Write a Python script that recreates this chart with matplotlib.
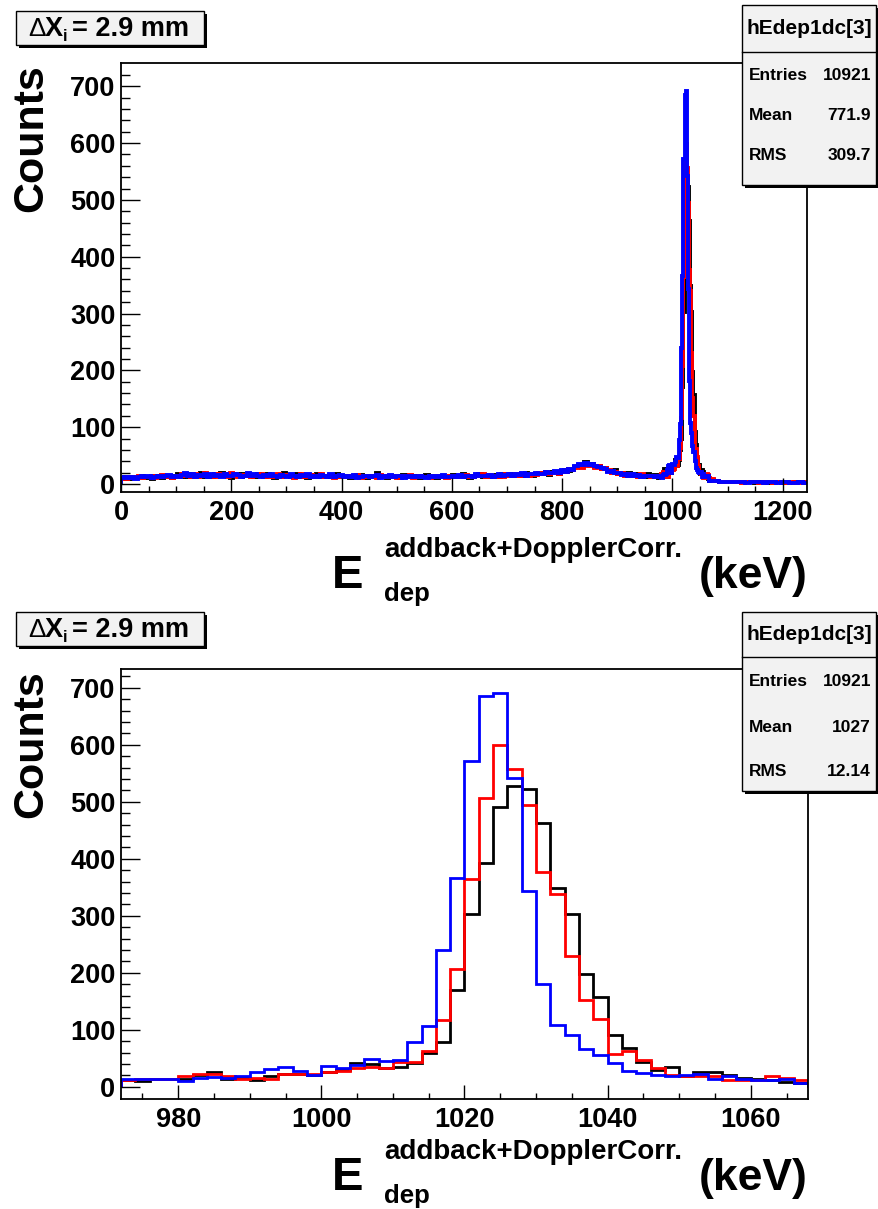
import matplotlib as mpl
mpl.use("Agg")
import matplotlib.pyplot as plt
from matplotlib.patches import Rectangle
import numpy as np

plt.rcParams['font.family'] = ['Liberation Sans', 'DejaVu Sans']
plt.rcParams['font.weight'] = 'bold'

# ---- data: counts per bin ----
# continuum 0-972 keV, 6 keV bins (162)
cont_black = [8, 12, 9, 11, 13, 10, 14, 11, 13, 9,
              14, 12, 10, 15, 13, 11, 14, 17, 13, 16,
              12, 18, 15, 14, 19, 13, 16, 12, 17, 15,
              20, 14, 16, 11, 15, 18, 13, 17, 14, 16,
              12, 17, 15, 13, 18, 14, 11, 16, 13, 19,
              14, 12, 15, 17, 13, 15, 11, 16, 14, 18,
              13, 15, 12, 16, 14, 17, 12, 13, 15, 11,
              14, 12, 16, 13, 10, 15, 13, 19, 12, 14,
              11, 15, 13, 14, 10, 16, 12, 14, 13, 15,
              11, 14, 16, 12, 13, 10, 15, 13, 12, 14,
              16, 12, 14, 17, 13, 11, 15, 14, 18, 12,
              15, 13, 16, 14, 12, 17, 15, 16, 18, 14,
              17, 15, 19, 16, 14, 18, 17, 20, 18, 16,
              21, 19, 17, 22, 25, 23, 26, 30, 34, 31,
              38, 33, 36, 30, 32, 27, 29, 23, 21, 24,
              18, 20, 16, 19, 15, 17, 14, 16, 13, 17,
              14, 16]
cont_red = [11, 9, 13, 10, 12, 14, 10, 13, 12, 15,
            11, 13, 16, 12, 14, 10, 13, 15, 18, 14,
            16, 13, 17, 12, 15, 19, 14, 16, 13, 18,
            15, 17, 13, 19, 14, 12, 16, 15, 18, 13,
            16, 14, 17, 12, 15, 13, 16, 18, 12, 14,
            16, 13, 11, 15, 17, 12, 14, 16, 13, 15,
            17, 12, 14, 16, 11, 15, 13, 14, 12, 15,
            13, 16, 11, 14, 12, 15, 13, 11, 16, 12,
            14, 12, 15, 11, 13, 14, 12, 16, 10, 13,
            15, 12, 13, 11, 14, 12, 15, 13, 11, 14,
            13, 15, 12, 14, 16, 13, 12, 15, 14, 17,
            13, 16, 14, 12, 15, 13, 17, 15, 14, 17,
            15, 18, 16, 14, 17, 16, 19, 18, 21, 17,
            19, 22, 18, 23, 21, 26, 24, 28, 32, 29,
            35, 31, 34, 29, 31, 26, 28, 24, 20, 22,
            17, 19, 15, 18, 14, 16, 13, 17, 14, 15,
            13, 15]
cont_blue = [10, 12, 11, 13, 9, 12, 15, 12, 14, 11,
             13, 15, 12, 14, 16, 12, 15, 13, 16, 19,
             14, 17, 13, 16, 15, 18, 12, 17, 15, 16,
             13, 18, 15, 14, 17, 16, 12, 15, 19, 14,
             17, 15, 13, 16, 14, 18, 15, 12, 16, 14,
             13, 17, 15, 12, 16, 14, 18, 13, 15, 12,
             16, 14, 13, 17, 12, 14, 16, 12, 14, 13,
             16, 11, 13, 15, 14, 12, 14, 16, 11, 15,
             13, 16, 12, 14, 15, 11, 14, 13, 15, 12,
             14, 13, 11, 15, 12, 14, 13, 16, 12, 13,
             15, 13, 16, 12, 14, 15, 13, 17, 14, 15,
             14, 16, 13, 15, 17, 14, 16, 18, 15, 17,
             16, 19, 15, 18, 17, 20, 18, 17, 21, 19,
             20, 23, 19, 24, 22, 27, 25, 31, 35, 33,
             37, 34, 35, 32, 30, 28, 26, 22, 23, 20,
             19, 16, 18, 15, 17, 14, 16, 13, 15, 14,
             15, 13]

# peak region 972-1068 keV, 2 keV bins (48)
peak_black = [12, 10, 13, 13, 13, 20, 26, 14, 16, 12,
              18, 22, 22, 20, 26, 30, 42, 40, 32, 34,
              42, 60, 79, 170, 303, 393, 491, 527, 523, 463,
              348, 303, 198, 157, 91, 68, 44, 29, 34, 18,
              25, 25, 21, 15, 14, 12, 9, 6]
peak_red = [12, 13, 13, 13, 18, 22, 22, 19, 13, 16,
            13, 23, 23, 22, 25, 27, 32, 34, 32, 44,
            44, 63, 117, 207, 365, 506, 599, 557, 495, 377,
            339, 230, 152, 119, 57, 62, 47, 32, 21, 19,
            18, 18, 11, 11, 11, 18, 16, 11]
peak_blue = [13, 14, 13, 13, 10, 16, 17, 16, 18, 25,
             31, 34, 28, 20, 36, 33, 38, 48, 45, 46,
             78, 106, 240, 367, 572, 685, 691, 542, 344, 181,
             108, 90, 67, 56, 41, 28, 24, 21, 19, 21,
             22, 13, 18, 14, 12, 12, 14, 6]

# tail 1068-1244 keV, 8 keV bins (22)
tail_black = [7, 5, 4, 4, 3, 3, 3, 3, 3, 3, 2, 3, 3, 2, 3, 3, 2, 3, 2, 3, 3, 2]
tail_red = [8, 6, 4, 3, 4, 3, 3, 2, 3, 3, 3, 2, 3, 3, 2, 3, 3, 2, 3, 2, 2, 3]
tail_blue = [6, 5, 4, 3, 3, 4, 3, 3, 2, 3, 3, 3, 2, 3, 3, 2, 3, 3, 2, 2, 3, 2]

edges_peak = np.arange(972, 1069, 2)
edges_full = np.concatenate([np.arange(0, 973, 6), edges_peak[1:],
                             np.arange(1076, 1245, 8)])

stats_top = [("Entries", "10921"), ("Mean", "771.9"), ("RMS", "309.7")]
stats_bot = [("Entries", "10921"), ("Mean", "1027"), ("RMS", "12.14")]

colors = ["black", "red", "blue"]

W, H = 879.0, 1209.0
fig = plt.figure(figsize=(W / 100, H / 100), dpi=100)


def make_axes(left, top, right, bottom):
    return fig.add_axes([left / W, 1 - bottom / H, (right - left) / W, (bottom - top) / H])


axTop = make_axes(121, 63, 807, 492)
axBot = make_axes(121, 669, 808, 1099)

full = [cont_black + peak_black + tail_black,
        cont_red + peak_red + tail_red,
        cont_blue + peak_blue + tail_blue]
for vals, c in zip(full, colors):
    axTop.stairs(vals, edges_full, color=c, lw=2.8)
for vals, c in zip([peak_black, peak_red, peak_blue], colors):
    axBot.stairs(vals, edges_peak, color=c, lw=2)

axTop.set_xlim(0, 1244)
axTop.set_ylim(-14, 741)
axTop.set_xticks(np.arange(0, 1201, 200))
axTop.set_xticks(np.arange(0, 1244, 50), minor=True)
axBot.set_xlim(972, 1068)
axBot.set_ylim(-21.6, 733)
axBot.set_xticks(np.arange(980, 1061, 20))
axBot.set_xticks(np.arange(975, 1068, 5), minor=True)

for ax in (axTop, axBot):
    ax.set_yticks(np.arange(0, 701, 100))
    ax.set_yticks(np.arange(0, 730, 20), minor=True)
    ax.tick_params(direction='in', which='both', top=False, right=False,
                   labelsize=19.5, width=1)
    ax.tick_params(axis='y', which='major', length=13.5, pad=4)
    ax.tick_params(axis='y', which='minor', length=6.5)
    ax.tick_params(axis='x', which='major', length=10, pad=6)
    ax.tick_params(axis='x', which='minor', length=4.5)
    for sp in ax.spines.values():
        sp.set_linewidth(1.3)
    for lab in ax.get_xticklabels() + ax.get_yticklabels():
        lab.set_fontweight('bold')

# overlay in pixel coordinates for text boxes and composite labels
ov = fig.add_axes([0, 0, 1, 1], zorder=10)
ov.set_xlim(0, W)
ov.set_ylim(H, 0)
ov.axis('off')


def stat_box(top, sep, bottom, rows, row_y):
    ov.add_patch(Rectangle((745, top + 3), 134, bottom - top, fc='black', ec='none'))
    ov.add_patch(Rectangle((742, top), 134, bottom - top, fc='#f2f2f2', ec='black', lw=1))
    ov.plot([742, 876], [sep, sep], color='black', lw=1)
    ov.text(809, (top + sep) / 2, "hEdep1dc[3]", ha='center', va='center', fontsize=15)
    for (name, val), yy in zip(rows, row_y):
        ov.text(749, yy, name, ha='left', va='center', fontsize=12.5)
        ov.text(871, yy, val, ha='right', va='center', fontsize=12.5)


def dx_box(top):
    ov.add_patch(Rectangle((19, top + 3), 188, 34, fc='black', ec='none'))
    ov.add_patch(Rectangle((16, top), 188, 34, fc='#f2f2f2', ec='black', lw=1))
    ov.text(28, top + 25, "\u0394", ha='left', va='baseline', fontsize=19,
            fontweight='normal')
    ov.text(45, top + 25, "X", ha='left', va='baseline', fontsize=19.5)
    ov.text(63, top + 30, "i", ha='left', va='baseline', fontsize=12)
    ov.text(72, top + 25, "= 2.9 mm", ha='left', va='baseline', fontsize=19.5)


def xlabel(base):
    ov.text(332, base, "E", ha='left', va='baseline', fontsize=34)
    ov.text(384, base - 31, "addback+DopplerCorr.", ha='left', va='baseline', fontsize=20)
    ov.text(384, base + 13, "dep", ha='left', va='baseline', fontsize=18.5)
    ov.text(808, base, "(keV)", ha='right', va='baseline', fontsize=32)


stat_box(5, 52, 185, stats_top, [75, 115, 155])
stat_box(612, 657, 791, stats_bot, [681, 727, 772])
dx_box(11)
dx_box(612)
xlabel(588)
xlabel(1190)
ov.text(31, 138, "Counts", rotation=90, ha='center', va='center', fontsize=31)
ov.text(31, 744, "Counts", rotation=90, ha='center', va='center', fontsize=31)

fig.savefig("out.png", dpi=100)
